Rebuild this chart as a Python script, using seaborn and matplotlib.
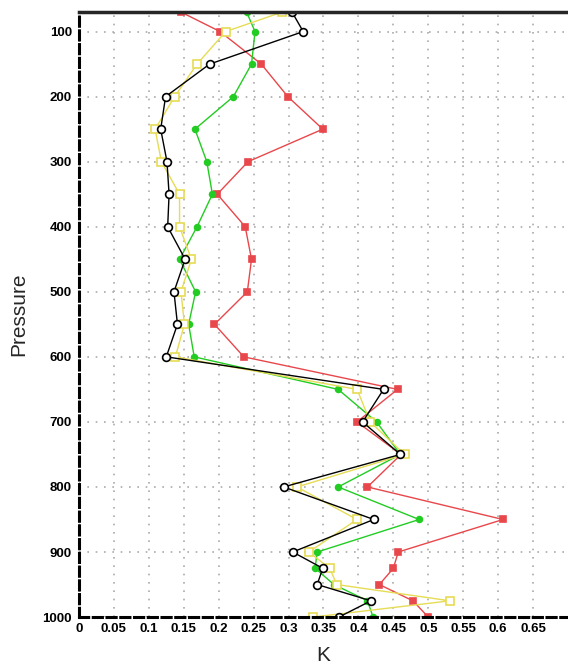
import matplotlib
matplotlib.use('Agg')
import matplotlib.pyplot as plt
import seaborn as sns
import pandas as pd

sns.set_style('white')
plt.rcParams['font.family'] = ['Liberation Sans', 'DejaVu Sans']

pressure = [70, 100, 150, 200, 250, 300, 350, 400, 450, 500, 550, 600,
            650, 700, 750, 800, 850, 900, 925, 950, 975, 1000]

red_vals = [0.146, 0.202, 0.261, 0.299, 0.349, 0.242, 0.198, 0.238, 0.247, 0.241, 0.194, 0.236,
            0.456, 0.398, 0.461, 0.413, 0.607, 0.457, 0.450, 0.430, 0.478, 0.500]
green_vals = [0.240, 0.252, 0.247, 0.221, 0.166, 0.183, 0.191, 0.169, 0.144, 0.167, 0.157, 0.165,
              0.371, 0.426, 0.460, 0.371, 0.487, 0.341, 0.338, 0.365, 0.413, 0.421]
yellow_vals = [0.291, 0.210, 0.169, 0.137, 0.109, 0.118, 0.144, 0.144, 0.161, 0.146, 0.151, 0.138,
               0.398, 0.417, 0.466, 0.312, 0.398, 0.329, 0.359, 0.369, 0.531, 0.335]
black_vals = [0.305, 0.321, 0.187, 0.124, 0.117, 0.126, 0.129, 0.127, 0.152, 0.136, 0.141, 0.125,
              0.436, 0.406, 0.460, 0.293, 0.422, 0.306, 0.349, 0.341, 0.418, 0.372]

x_ticks = [0, 0.05, 0.1, 0.15, 0.2, 0.25, 0.3, 0.35, 0.4, 0.45, 0.5, 0.55, 0.6, 0.65]
x_labels = ['0', '0.05', '0.1', '0.15', '0.2', '0.25', '0.3', '0.35', '0.4', '0.45',
            '0.5', '0.55', '0.6', '0.65']
y_ticks = [100, 200, 300, 400, 500, 600, 700, 800, 900, 1000]

fig = plt.figure(figsize=(5.68, 6.70), dpi=100)
ax = fig.add_axes([0.139, 0.079, 0.861, 0.903])

series = [
    (red_vals, '#e8474b', 's', '#e8474b', '#e8474b', 4.8),
    (green_vals, '#22cc22', 'o', '#22cc22', '#22cc22', 4.2),
    (yellow_vals, '#e6dc55', 's', 'white', '#e6dc55', 5.8),
    (black_vals, 'black', 'o', 'white', 'black', 5.6),
]
for vals, col, mk, mfc, mec, ms in series:
    df = pd.DataFrame({'K': vals, 'Pressure': pressure})
    sns.lineplot(data=df, x='K', y='Pressure', sort=False, estimator=None, ax=ax,
                 color=col, linewidth=1.0, marker=mk, markersize=ms,
                 markerfacecolor=mfc, markeredgecolor=mec, markeredgewidth=1.2)

ax.set_xlim(0, 0.7)
ax.set_ylim(1000, 70)
ax.set_xticks(x_ticks)
ax.set_xticklabels(x_labels, fontweight='bold', fontsize=9.5)
ax.set_yticks(y_ticks)
ax.set_yticklabels([str(t) for t in y_ticks], fontweight='bold', fontsize=9.5)
ax.set_xlabel('K', fontsize=15, labelpad=8)
ax.set_ylabel('Pressure', fontsize=15, labelpad=10)

ax.grid(True, color='#aaaaaa', linestyle=(0, (1, 4)), linewidth=1.2)
ax.tick_params(axis='both', direction='out', length=4, width=1.5, pad=1, colors='black')
ax.tick_params(axis='x', length=3)

ax.spines['right'].set_visible(False)
ax.spines['top'].set_linewidth(2.5)
for s in ['left', 'bottom']:
    ax.spines[s].set_linewidth(2.2)
    ax.spines[s].set_linestyle((0, (3, 1.5)))
    ax.spines[s].set_color('black')

fig.savefig('out.png', dpi=100)
